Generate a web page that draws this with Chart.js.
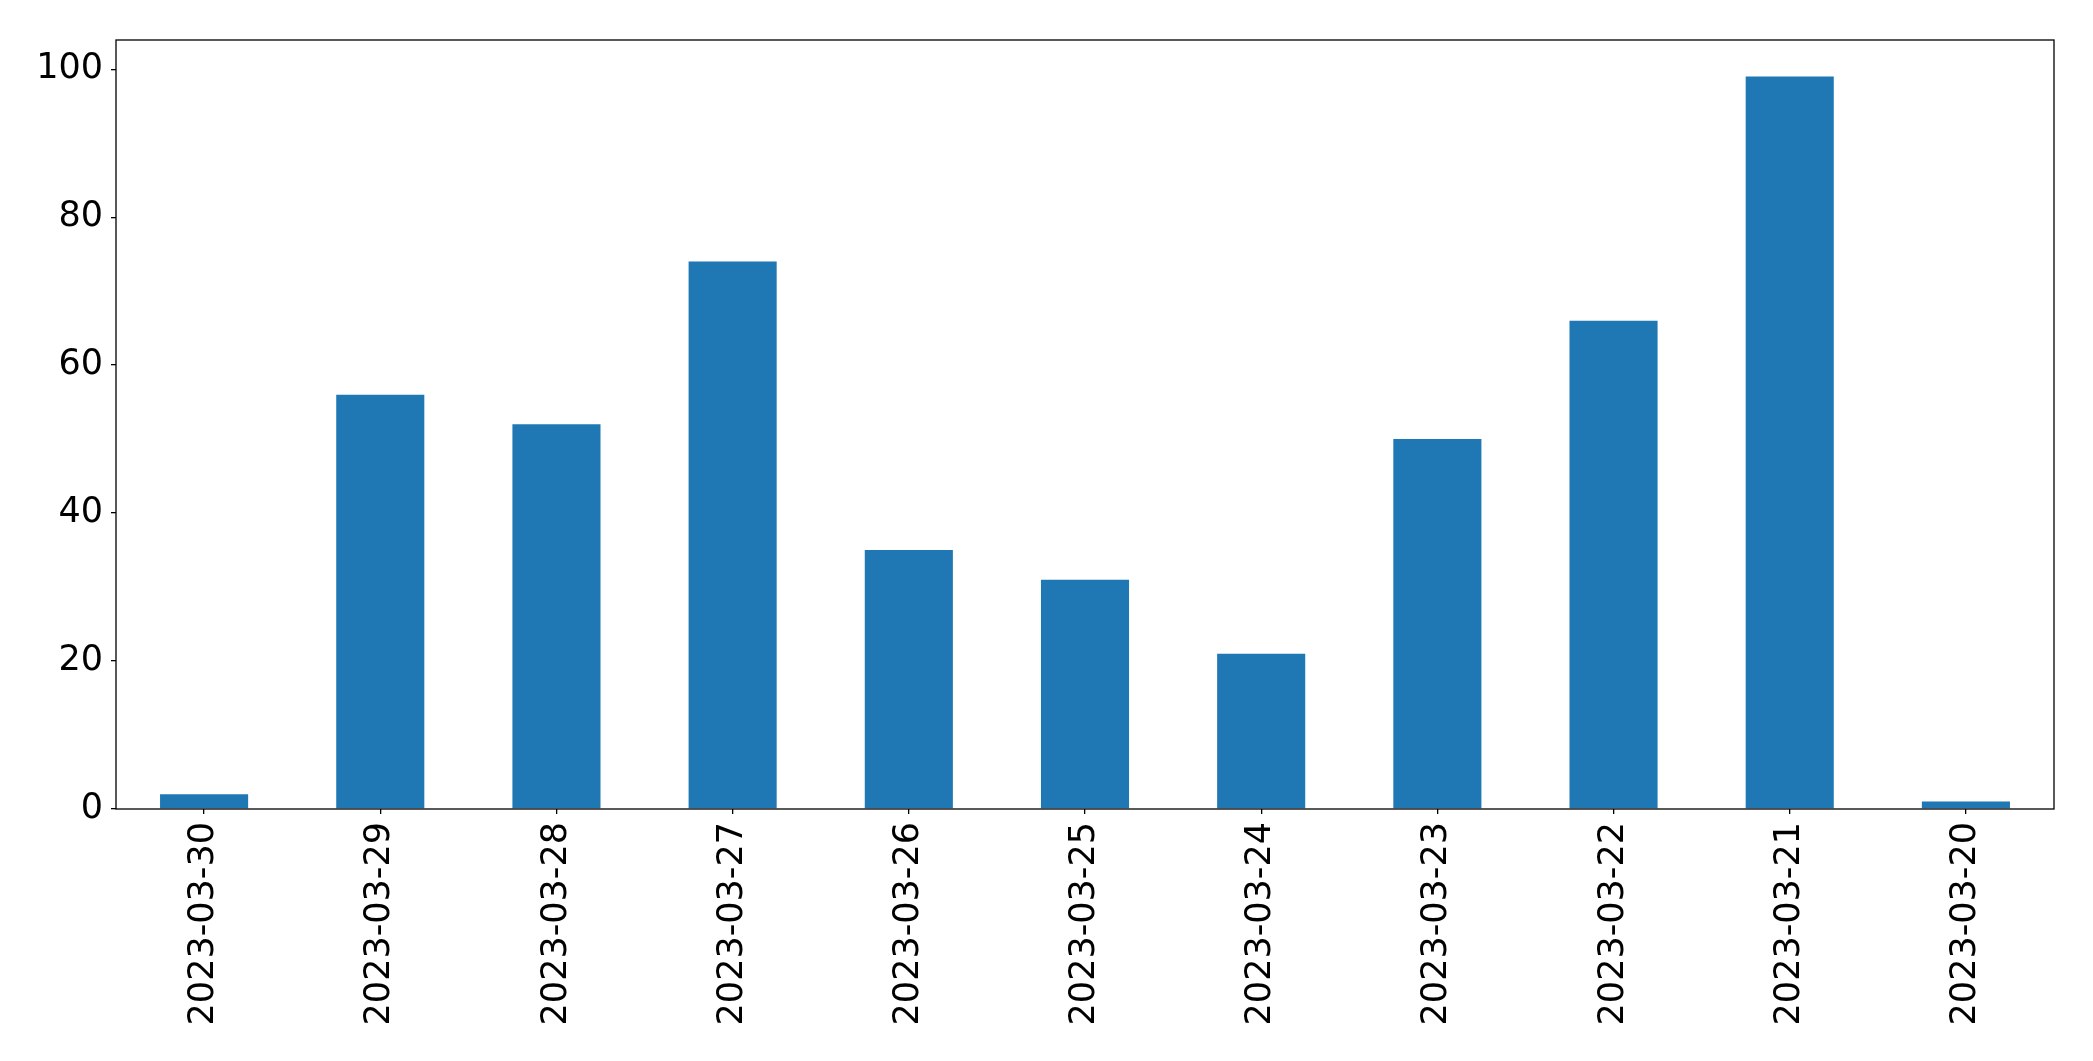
<!DOCTYPE html>
<html>
<head>
<meta charset="utf-8">
<script src="https://cdn.jsdelivr.net/npm/chart.js@4.4.0/dist/chart.umd.min.js"></script>
<style>
  html, body { margin: 0; padding: 0; background: #fff; }
  #c { display: block; }
</style>
</head>
<body>
<canvas id="c" width="2093" height="1061"></canvas>
<script>
// dates as they appear on the x axis (newest first)
const dates = ['2023-03-30', '2023-03-29', '2023-03-28', '2023-03-27', '2023-03-26',
               '2023-03-25', '2023-03-24', '2023-03-23', '2023-03-22', '2023-03-21', '2023-03-20'];
// count per day
const counts = [2, 56, 52, 74, 35, 31, 21, 50, 66, 99, 1];
const yTicks = [0, 20, 40, 60, 80, 100];

const yMax = Math.max(...counts) * 1.05; // matplotlib style headroom

// black frame round the plot area
const frame = {
  id: 'frame',
  afterDraw(chart) {
    const a = chart.chartArea, c = chart.ctx;
    c.save();
    c.strokeStyle = '#000';
    c.lineWidth = 1.3;
    c.strokeRect(a.left, a.top, a.right - a.left, a.bottom - a.top);
    c.restore();
  }
};

const ctx = document.getElementById('c').getContext('2d');
new Chart(ctx, {
  type: 'bar',
  data: {
    labels: dates,
    datasets: [{
      data: counts,
      backgroundColor: '#1f77b4',
      borderWidth: 0,
      barPercentage: 0.5,
      categoryPercentage: 1.0
    }]
  },
  options: {
    responsive: false,
    animation: false,
    layout: { padding: { top: 40, right: 39, left: 0, bottom: 0 } },
    plugins: { legend: { display: false }, tooltip: { enabled: false } },
    scales: {
      x: {
        offset: true,
        grid: { display: true, offset: false, drawOnChartArea: false, tickLength: 5, color: '#000', lineWidth: 1.3 },
        border: { display: false },
        ticks: {
          minRotation: 90, maxRotation: 90, padding: 8, autoSkip: false,
          color: '#000', font: { family: 'DejaVu Sans', size: 35 }
        },
        afterFit(s) { s.height = 252; }
      },
      y: {
        min: 0, max: yMax,
        grid: { display: true, drawOnChartArea: false, tickLength: 5, color: '#000', lineWidth: 1.3 },
        border: { display: false },
        ticks: {
          stepSize: 20, includeBounds: false, padding: 8,
          color: '#000', font: { family: 'DejaVu Sans', size: 35 }
        },
        afterBuildTicks(s) { s.ticks = yTicks.map(v => ({ value: v })); },
        afterFit(s) { s.width = 116; }
      }
    }
  },
  plugins: [frame]
});
</script>
</body>
</html>
